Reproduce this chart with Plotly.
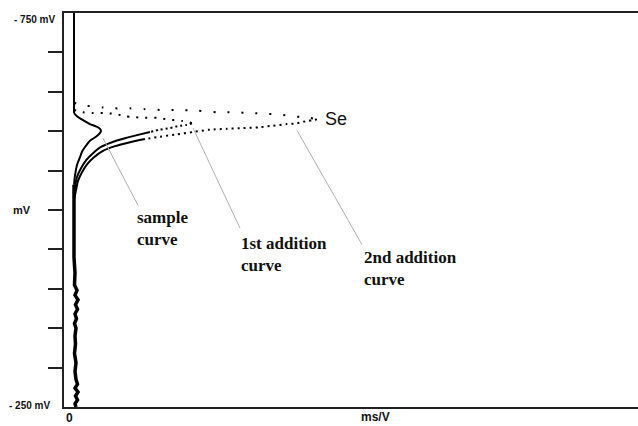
import plotly.graph_objects as go

# ---- data (potential in mV, signal in ms/V) ----
base_top_mv = [-750, -623]
base_top_ms = [0.5, 0.5]

sample_mv = [-623, -619, -614, -609, -606, -603, -600, -597, -593, -588, -580, -574, -567, -557, -544, -532]
sample_ms = [0.5, 0.8, 1.4, 2.1, 2.7, 3.1, 3.2, 3.05, 2.7, 2.1, 1.6, 1.3, 1.1, 0.8, 0.6, 0.5]

add1_upper_mv = [-627, -624, -623, -623, -622, -619, -618, -617, -617, -615, -614, -613, -612, -610]
add1_upper_ms = [0.5, 1.4, 2.4, 3.4, 4.6, 5.6, 6.4, 7.6, 8.8, 9.8, 10.6, 11.3, 11.9, 12.3]
add1_lowdot_mv = [-610, -608, -607, -604, -602, -599]
add1_lowdot_ms = [12.3, 11.7, 11.1, 10.1, 9.1, 8.1]
add1_lowsolid_mv = [-599, -595, -591, -586, -580, -572, -563, -553, -542, -529, -519]
add1_lowsolid_ms = [8.1, 6.8, 5.6, 4.3, 3.2, 2.4, 1.7, 1.2, 0.8, 0.6, 0.5]

add2_upper_mv = [-636, -633, -631, -630, -629, -629, -628, -627, -627, -626, -624, -624, -623, -622, -621, -619, -618, -617, -615]
add2_upper_ms = [0.5, 1.4, 2.6, 3.4, 4.6, 6.1, 7.6, 9.1, 10.9, 12.9, 14.8, 16.4, 18.3, 19.8, 21.1, 22.3, 23.3, 24.1, 24.8]
add2_lowdot_mv = [-615, -614, -613, -610, -609, -607, -605, -604, -603, -602, -599, -596, -593, -590]
add2_lowdot_ms = [24.8, 24.4, 23.8, 22.8, 21.8, 20.4, 19.1, 17.4, 15.8, 14.1, 12.4, 10.8, 9.1, 7.6]
add2_lowsolid_mv = [-590, -586, -581, -575, -567, -558, -548, -537, -525, -513]
add2_lowsolid_ms = [7.6, 6.1, 4.6, 3.4, 2.5, 1.8, 1.3, 0.9, 0.7, 0.5]

base_low_mv = [-532, -500, -470, -440, -420, -405, -398, -392, -386, -380, -374, -368, -362, -356,
               -350, -340, -330, -318, -306, -295, -285, -279, -274, -269, -264, -259, -254, -250]
base_low_ms = [0.5, 0.5, 0.55, 0.5, 0.6, 0.55, 0.8, 0.6, 0.9, 0.65, 0.85, 0.6, 0.75, 0.55,
               0.7, 0.6, 0.65, 0.55, 0.7, 0.6, 0.7, 0.85, 0.6, 0.9, 0.65, 0.85, 0.6, 0.7]

y_ticks = [-700, -650, -600, -550, -500, -450, -400, -350, -300]

# callouts: (text, label x, label y, leader x0, y0, x1, y1)
callouts = [
    ("sample<br>curve", 6.6, -476, 3.4, -591, 6.9, -506),
    ("1st addition<br>curve", 17.0, -443, 12.4, -604, 17.1, -477),
    ("2nd addition<br>curve", 29.3, -426, 22.8, -601, 29.3, -456),
]

fig = go.Figure()

def add(x, y, width=2, dash="solid"):
    fig.add_trace(go.Scatter(x=x, y=y, mode="lines",
                             line=dict(color="black", width=width, dash=dash, shape="spline", smoothing=0.6),
                             hoverinfo="skip", showlegend=False))

add(base_top_ms, base_top_mv, 2)
add(sample_ms, sample_mv, 2)
add(add1_upper_ms, add1_upper_mv, 2, "2px,7px")
add(add1_lowdot_ms, add1_lowdot_mv, 2, "2px,3px")
add(add1_lowsolid_ms, add1_lowsolid_mv, 2)
add(add2_upper_ms, add2_upper_mv, 2, "2px,12px")
add(add2_lowdot_ms, add2_lowdot_mv, 2, "2px,4px")
add(add2_lowsolid_ms, add2_lowsolid_mv, 2)
fig.add_trace(go.Scatter(x=base_low_ms, y=base_low_mv, mode="lines", line=dict(color="black", width=3.5),
                         hoverinfo="skip", showlegend=False))

serif = "Liberation Serif"
sans = "Liberation Sans"
for text, tx, ty, x0, y0, x1, y1 in callouts:
    fig.add_shape(type="line", x0=x0, y0=y0, x1=x1, y1=y1, xref="x", yref="y",
                  line=dict(color="#b0b0b0", width=1))
    fig.add_annotation(x=tx, y=ty, xref="x", yref="y", text="<b>" + text + "</b>", showarrow=False,
                       xanchor="left", yanchor="middle", align="left",
                       font=dict(family=serif, size=17, color="#111"))

fig.add_annotation(x=25.4, y=-615, xref="x", yref="y", text="Se", showarrow=False, xanchor="left",
                   yanchor="middle", font=dict(family=sans, size=18, color="#111"))

fig.add_annotation(x=0, y=-750, xref="paper", yref="y", text="<b>- 750 mV</b>", showarrow=False,
                   xanchor="right", yanchor="middle", xshift=-7, yshift=-6, font=dict(family=sans, size=10, color="#111"))
fig.add_annotation(x=0, y=-250, xref="paper", yref="y", text="<b>- 250 mV</b>", showarrow=False,
                   xanchor="right", yanchor="middle", xshift=-12, yshift=2, font=dict(family=sans, size=10, color="#111"))
fig.add_annotation(x=0, y=-500, xref="paper", yref="y", text="<b>mV</b>", showarrow=False,
                   xanchor="right", yanchor="middle", xshift=-31, font=dict(family=sans, size=11, color="#111"))
fig.add_annotation(x=0, y=0, xref="x", yref="paper", text="<b>0</b>", showarrow=False,
                   xanchor="center", yanchor="top", yshift=-2, font=dict(family=sans, size=12, color="#111"))
fig.add_annotation(x=30.6, y=0, xref="x", yref="paper", text="<b>ms/V</b>", showarrow=False,
                   xanchor="center", yanchor="top", yshift=-1, font=dict(family=sans, size=12, color="#111"))

fig.update_xaxes(range=[-0.5, 56.9], showline=True, linecolor="#222", linewidth=2, mirror=True,
                 showgrid=False, zeroline=False, showticklabels=False, ticks="")
fig.update_yaxes(range=[-250, -750], showline=True, linecolor="#222", linewidth=2, mirror=False,
                 showgrid=False, zeroline=False, showticklabels=False, ticks="outside",
                 tickvals=y_ticks, ticklen=14, tickwidth=2, tickcolor="#222")

fig.update_layout(width=638, height=426, margin=dict(l=64, r=0, t=13, b=19),
                  paper_bgcolor="white", plot_bgcolor="white")

fig.write_html("out.html", config={"displayModeBar": False},
               post_script="document.body.style.margin='0';document.body.style.overflow='hidden';")
